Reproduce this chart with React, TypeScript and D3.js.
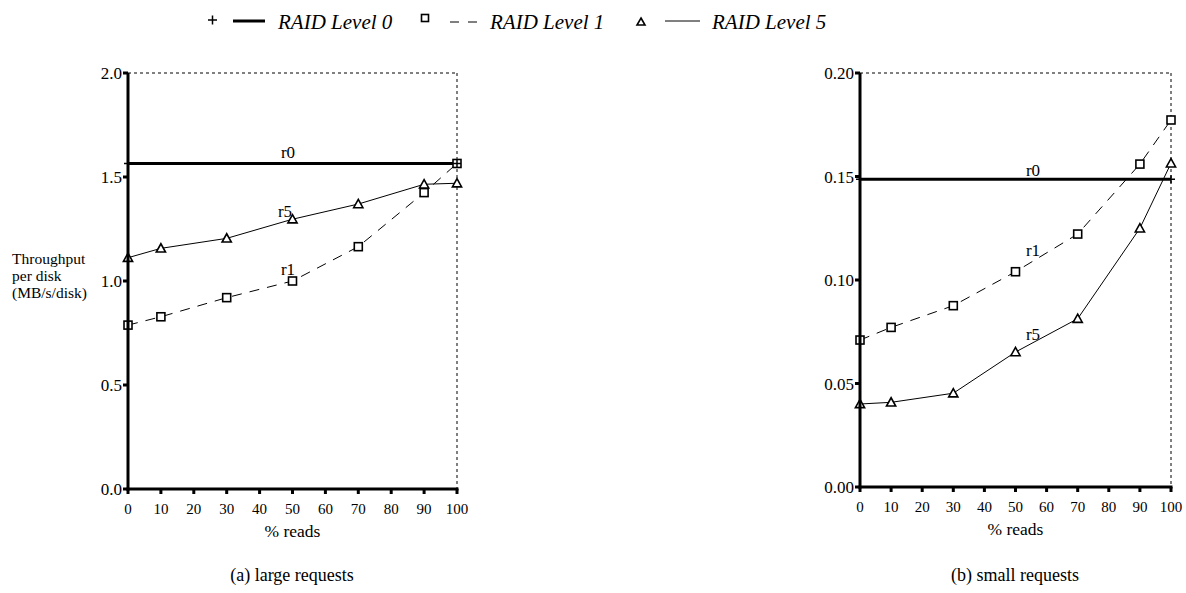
import React from "react";
import * as d3 from "d3";

const readPct = [0, 10, 30, 50, 70, 90, 100];
const xTicks = [0, 10, 20, 30, 40, 50, 60, 70, 80, 90, 100];

// (a) large requests
const largeR0 = [1.565, 1.565];
const largeR1 = [0.788, 0.828, 0.92, 1.0, 1.165, 1.425, 1.565];
const largeR5 = [1.112, 1.157, 1.205, 1.297, 1.37, 1.465, 1.47];
const largeYTicks = [0.0, 0.5, 1.0, 1.5, 2.0];

// (b) small requests
const smallR0 = [0.1487, 0.1487];
const smallR1 = [0.071, 0.0771, 0.0876, 0.104, 0.1222, 0.156, 0.1773];
const smallR5 = [0.0401, 0.0409, 0.0453, 0.0652, 0.0813, 0.125, 0.1564];
const smallYTicks = [0.0, 0.05, 0.1, 0.15, 0.2];

const r0X = [0, 100];

const FONT = "'Liberation Serif', 'Times New Roman', 'DejaVu Serif', serif";

type PanelProps = {
  left: number; right: number; top: number; bottom: number;
  yMax: number; yTicks: number[]; fmt: string;
  r0: number[]; r1: number[]; r5: number[];
  caption: string; captionX: number;
  labels: { r0: [number, number]; r1: [number, number]; r5: [number, number] };
};

function Square({ x, y }: { x: number; y: number }) {
  return <rect x={x - 4} y={y - 4} width={8} height={8} fill="white" stroke="black" strokeWidth={1.6} />;
}
function Tri({ x, y }: { x: number; y: number }) {
  const s = 4.6;
  return <path d={`M${x},${y - s} L${x + s},${y + s * 0.8} L${x - s},${y + s * 0.8} Z`} fill="white" stroke="black" strokeWidth={1.6} />;
}

function Panel(p: PanelProps) {
  const x = d3.scaleLinear().domain([0, 100]).range([p.left, p.right]);
  const y = d3.scaleLinear().domain([0, p.yMax]).range([p.bottom, p.top]);
  const f = d3.format(p.fmt);
  const line = d3.line<[number, number]>().x(d => x(d[0])).y(d => y(d[1]));
  const r1pts = readPct.map((v, i) => [v, p.r1[i]] as [number, number]);
  const r5pts = readPct.map((v, i) => [v, p.r5[i]] as [number, number]);
  const r0pts = r0X.map((v, i) => [v, p.r0[i]] as [number, number]);
  return (
    <g>
      <line x1={p.left} x2={p.right} y1={p.top} y2={p.top} stroke="black" strokeWidth={1} strokeDasharray="3,3" />
      <line x1={p.right} x2={p.right} y1={p.top} y2={p.bottom} stroke="black" strokeWidth={1} strokeDasharray="3,3" />
      <path d={line(r1pts) || ""} fill="none" stroke="black" strokeWidth={1} strokeDasharray="10,8" />
      <path d={line(r5pts) || ""} fill="none" stroke="black" strokeWidth={1} />
      <path d={line(r0pts) || ""} fill="none" stroke="black" strokeWidth={3} />
      {r1pts.map((d, i) => <Square key={"s" + i} x={x(d[0])} y={y(d[1])} />)}
      {r5pts.map((d, i) => <Tri key={"t" + i} x={x(d[0])} y={y(d[1])} />)}
      {r0pts.map((d, i) => (
        <path key={"p" + i} d={`M${x(d[0]) - 4},${y(d[1])} h8 M${x(d[0])},${y(d[1]) - 4} v8`} stroke="black" strokeWidth={1.5} />
      ))}
      <line x1={p.left} x2={p.left} y1={p.top} y2={p.bottom + 1.5} stroke="black" strokeWidth={3} />
      <line x1={p.left - 1.5} x2={p.right + 1.5} y1={p.bottom} y2={p.bottom} stroke="black" strokeWidth={3} />
      {p.yTicks.map(t => (
        <g key={"y" + t}>
          <line x1={p.left - 5} x2={p.left} y1={y(t)} y2={y(t)} stroke="black" strokeWidth={3} />
          <text x={p.left - 6} y={y(t) + 6} textAnchor="end" fontSize={17}>{f(t)}</text>
        </g>
      ))}
      {xTicks.map(t => (
        <g key={"x" + t}>
          <line x1={x(t)} x2={x(t)} y1={p.bottom} y2={p.bottom + 5} stroke="black" strokeWidth={3} />
          <text x={x(t)} y={p.bottom + 25} textAnchor="middle" fontSize={15}>{t}</text>
        </g>
      ))}
      <text x={(p.left + p.right) / 2} y={p.bottom + 48} textAnchor="middle" fontSize={17.5}>% reads</text>
      <text x={p.captionX} y={581} textAnchor="middle" fontSize={18}>{p.caption}</text>
      <text x={p.labels.r0[0]} y={p.labels.r0[1]} textAnchor="middle" fontSize={17}>r0</text>
      <text x={p.labels.r1[0]} y={p.labels.r1[1]} textAnchor="middle" fontSize={17}>r1</text>
      <text x={p.labels.r5[0]} y={p.labels.r5[1]} textAnchor="middle" fontSize={17}>r5</text>
    </g>
  );
}

export default function App() {
  return (
    <svg width={1186} height={593} style={{ position: "absolute", left: 0, top: 0, background: "white" }} fontFamily={FONT}>
      <g>
        <path d="M208,20 h9 M212.5,15.5 v9" stroke="black" strokeWidth={1.5} />
        <line x1={233} x2={265} y1={21} y2={21} stroke="black" strokeWidth={3} />
        <text x={278} y={29} fontSize={21} fontStyle="italic">RAID Level 0</text>
        <rect x={421.5} y={14.5} width={7} height={7} fill="white" stroke="black" strokeWidth={1.6} />
        <line x1={450} x2={477} y1={22} y2={22} stroke="black" strokeWidth={1} strokeDasharray="9,9" />
        <text x={490} y={29} fontSize={21} fontStyle="italic">RAID Level 1</text>
        <path d="M641,18 L645,25 L637,25 Z" fill="white" stroke="black" strokeWidth={1.6} />
        <line x1={665} x2={700} y1={21} y2={21} stroke="black" strokeWidth={1} />
        <text x={712} y={29} fontSize={21} fontStyle="italic">RAID Level 5</text>
      </g>
      <g fontSize={15.5}>
        <text x={12} y={264}>Throughput</text>
        <text x={12} y={281}>per disk</text>
        <text x={12} y={298}>(MB/s/disk)</text>
      </g>
      <Panel left={128} right={457} top={73} bottom={489} yMax={2.0} yTicks={largeYTicks} fmt=".1f"
        r0={largeR0} r1={largeR1} r5={largeR5} caption="(a) large requests" captionX={292}
        labels={{ r0: [288, 158], r1: [288, 275], r5: [285, 217] }} />
      <Panel left={860} right={1171} top={73} bottom={487} yMax={0.2} yTicks={smallYTicks} fmt=".2f"
        r0={smallR0} r1={smallR1} r5={smallR5} caption="(b) small requests" captionX={1015}
        labels={{ r0: [1033, 176], r1: [1033, 256], r5: [1033, 340] }} />
    </svg>
  );
}
